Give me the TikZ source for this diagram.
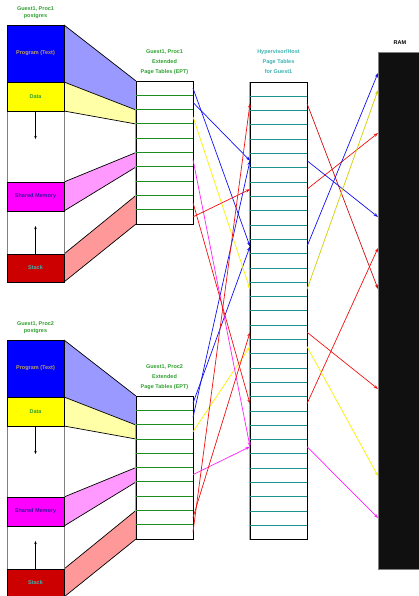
\documentclass[tikz,border=0pt]{standalone}
\usepackage{fontspec}
\setmainfont{Liberation Sans}
\usetikzlibrary{arrows.meta}
\definecolor{progfill}{HTML}{0000FF}
\definecolor{datafill}{HTML}{FFFF00}
\definecolor{shmfill}{HTML}{FF00FF}
\definecolor{stackfill}{HTML}{CC0000}
\definecolor{progtrap}{HTML}{9999FF}
\definecolor{datatrap}{HTML}{FFFFA8}
\definecolor{shmtrap}{HTML}{FF99FF}
\definecolor{stacktrap}{HTML}{FF9999}
\definecolor{progtext}{HTML}{C0A060}
\definecolor{datatext}{HTML}{30A030}
\definecolor{shmtext}{HTML}{3A10A0}
\definecolor{stacktext}{HTML}{40B0B0}
\definecolor{labelgreen}{HTML}{30A030}
\definecolor{labelteal}{HTML}{40B0B0}
\definecolor{eptgreen}{HTML}{1E8C1E}
\definecolor{hostteal}{HTML}{1E9490}
\definecolor{ramblack}{HTML}{101010}
\definecolor{cblue}{HTML}{1010F0}
\definecolor{cred}{HTML}{F01010}
\definecolor{cyellow}{HTML}{F8F000}
\definecolor{cmag}{HTML}{FF20FF}
\begin{document}
\begin{tikzpicture}[x=1pt,y=-1pt,
  lbl/.style={font=\bfseries\fontsize{5.5}{7}\selectfont,inner sep=0pt,align=center},
  lblwide/.style={font=\bfseries\fontsize{5.5}{10}\selectfont,inner sep=0pt,align=center},
  seg/.style={draw=black,line width=0.8pt,minimum width=57pt,inner sep=0pt,
    font=\bfseries\fontsize{5.5}{7}\selectfont},
  tbl/.style={draw=black,line width=0.8pt,fill=white,minimum width=57pt,inner sep=0pt},
  trapline/.style={draw=black,line width=0.7pt},
  eptrow/.style={eptgreen,line width=0.8pt},
  hostrow/.style={hostteal,line width=0.8pt},
  conn/.style={line width=0.7pt,-{Stealth[length=4.5pt,width=3.2pt]}},
  smallarr/.style={line width=0.7pt,-{Stealth[length=3pt,width=2.5pt]}}]
\useasboundingbox (0,0) rectangle (418,596);

% ---------- process address spaces and EPTs ----------
\foreach \k/\s in {1/0,2/315}{
\begin{scope}[yshift=-\s pt]
  % trapezoids
  \fill[progtrap] (64,25) -- (136,81) -- (136,110) -- (64,82) -- cycle;
  \fill[datatrap] (64,82) -- (136,110) -- (136,124) -- (64,111) -- cycle;
  \fill[shmtrap] (64,182) -- (136,152.5) -- (136,167) -- (64,211) -- cycle;
  \fill[stacktrap] (64,254) -- (136,195.4) -- (136,224) -- (64,282) -- cycle;
  \draw[trapline] (64,25) -- (136,81) (64,82) -- (136,110) (64,111) -- (136,124)
    (64,182) -- (136,152.5) (64,211) -- (136,167) (64,254) -- (136,195.4) (64,282) -- (136,224);
  % address space outline
  \draw[gray,line width=1pt] (7,25) -- (7,282) (64,25) -- (64,282);
  \node[seg,fill=progfill,minimum height=57pt,text=progtext] (prog\k) at (35.5,53.5) {Program (Text)};
  \node[seg,fill=datafill,minimum height=29pt,text=datatext] (data\k) at (35.5,96.5) {Data};
  \node[seg,fill=shmfill,minimum height=29pt,text=shmtext] (shm\k) at (35.5,196.5) {Shared Memory};
  \node[seg,fill=stackfill,minimum height=28pt,text=stacktext] (stack\k) at (35.5,268) {Stack};
  \coordinate (heap\k) at (35.5,139);
  \coordinate (stk\k) at (35.5,226);
  \draw[smallarr] (data\k.south) -- (heap\k);
  \draw[smallarr] (stack\k.north) -- (stk\k);
  \node[lbl,text=labelgreen] (ptitle\k) at (35.5,12.3) {Guest1, Proc\k\\postgres};
  % EPT
  \node[tbl,minimum height=143pt] (ept\k) at (164.5,152.5) {};
  \foreach \i in {1,...,9}{
    \draw[eptrow] (136,{81+14.3*\i}) -- (193,{81+14.3*\i});
  }
  \draw[gray!70,line width=1.3pt] (ept\k.north west) -- (ept\k.south west);
  \foreach \i in {0,...,9}{
    \coordinate (e\k-\i) at (193,{81+14.3*\i+7.15});
  }
  \node[lblwide,text=labelgreen] (etitle\k) at (164.5,62) {Guest1, Proc\k\\Extended\\Page Tables (EPT)};
\end{scope}
}

% ---------- host page tables ----------
\node[tbl,minimum height=457.6pt] (host) at (278.5,310.8) {};
\foreach \i in {1,...,31}{
  \draw[hostrow] (250,{82+14.3*\i}) -- (307,{82+14.3*\i});
}
\draw[gray!70,line width=1.3pt] (host.north west) -- (host.south west);
\foreach \i in {0,...,31}{
  \coordinate (hl\i) at (250,{82+14.3*\i+7.15});
  \coordinate (hr\i) at (307,{82+14.3*\i+7.15});
}
\node[lblwide,text=labelteal] (htitle) at (278.5,62) {Hypervisor/Host\\Page Tables\\for Guest1};

% ---------- RAM ----------
\node[fill=ramblack,draw=gray,line width=0.8pt,minimum width=44pt,minimum height=517pt,
  inner sep=0pt,anchor=north west] (ram) at (378,52) {};
\node[lbl,text=black] (ramtitle) at (400,43) {RAM};
\coordinate (m73) at (378,73);
\coordinate (m90) at (378,90);
\coordinate (m133) at (378,133);
\coordinate (m217) at (378,217);
\coordinate (m248) at (378,248);
\coordinate (m289) at (378,289);
\coordinate (m389) at (378,389);
\coordinate (m476) at (378,476);
\coordinate (m518) at (378,518);

% ---------- EPT -> host ----------
\draw[conn,cblue] (e1-0) -- (hl11);
\draw[conn,cblue] (e1-1) -- (hl5);
\draw[conn,cblue] (e2-0) -- (hl11);
\draw[conn,cblue] (e2-1) -- (hl5);
\draw[conn,cyellow] (e1-2) -- (hl14);
\draw[conn,cyellow] (e2-2) -- (hl18);
\draw[conn,cmag] (e1-5) -- (hl25);
\draw[conn,cmag] (e2-5) -- (hl25);
\draw[conn,cred] (e1-9) -- (hl7);
\draw[conn,cred] (e1-8) -- (hl22);
\draw[conn,cred] (e2-9) -- (hl1);
\draw[conn,cred] (e2-8) -- (hl17);

% ---------- host -> RAM ----------
\draw[conn,cred!85!black] (hr1) -- (m289);
\draw[conn,cred] (hr7) -- (m133);
\draw[conn,cred] (hr17) -- (m389);
\draw[conn,cred] (hr22) -- (m248);
\draw[conn,cblue] (hr5) -- (m217);
\draw[conn,cblue] (hr11) -- (m73);
\draw[conn,cyellow!85!black] (hr14) -- (m90);
\draw[conn,cyellow] (hr18) -- (m476);
\draw[conn,cmag] (hr25) -- (m518);
\end{tikzpicture}
\end{document}
